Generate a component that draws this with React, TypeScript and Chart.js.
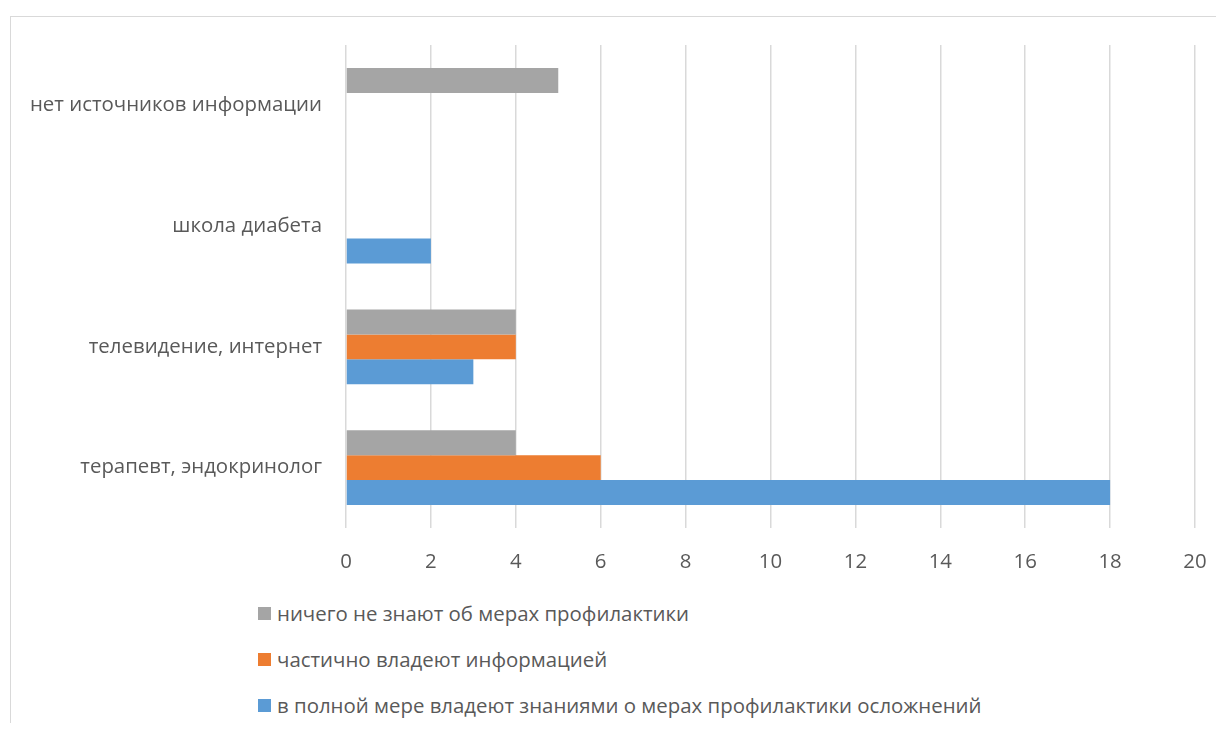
import React, { useEffect, useRef } from "react";
import { Chart, registerables } from "chart.js";

Chart.register(...registerables);

const categories = [
  "нет источников информации",
  "школа диабета",
  "телевидение, интернет",
  "терапевт, эндокринолог",
];
const seriesNames = [
  "ничего не знают об мерах профилактики",
  "частично владеют информацией",
  "в полной мере владеют знаниями о мерах профилактики осложнений",
];
const nothingValues = [5, 0, 4, 4];
const partialValues = [0, 0, 4, 6];
const fullValues = [0, 2, 3, 18];
const seriesColors = ["#a5a5a5", "#ed7d31", "#5b9bd5"];
const xTicksMin = 0;
const xTicksMax = 20;
const xTickStep = 2;

const FONT = "'Open Sans', 'Noto Sans', sans-serif";
const TEXT = "#595959";
const FS = 20.4;

export default function App() {
  const ref = useRef<HTMLCanvasElement | null>(null);

  useEffect(() => {
    if (!ref.current) return;
    const chart = new Chart(ref.current, {
      type: "bar",
      data: {
        labels: categories,
        datasets: [
          { label: seriesNames[0], data: nothingValues, backgroundColor: seriesColors[0] },
          { label: seriesNames[1], data: partialValues, backgroundColor: seriesColors[1] },
          { label: seriesNames[2], data: fullValues, backgroundColor: seriesColors[2] },
        ],
      },
      options: {
        indexAxis: "y",
        animation: false,
        responsive: false,
        maintainAspectRatio: false,
        datasets: { bar: { barPercentage: 1, categoryPercentage: 0.62 } },
        layout: { padding: { top: 37, right: 21, left: 0, bottom: 0 } },
        plugins: { legend: { display: false }, tooltip: { enabled: false } },
        scales: {
          x: {
            min: xTicksMin,
            max: xTicksMax,
            ticks: { stepSize: xTickStep, color: TEXT, font: { family: FONT, size: FS }, padding: 22 },
            grid: { color: "#d9d9d9", lineWidth: 1.5, drawTicks: false },
            border: { display: false },
            afterFit: (s: any) => {
              s.height = 52;
              s.paddingLeft = 0;
              s.paddingRight = 0;
            },
          },
          y: {
            ticks: { color: TEXT, font: { family: FONT, size: FS }, padding: 24 },
            grid: { display: false, drawTicks: false },
            border: { display: false },
            afterFit: (s: any) => {
              s.width = 338;
              s.paddingTop = 0;
              s.paddingBottom = 0;
            },
          },
        },
      },
    });
    return () => chart.destroy();
  }, []);

  const legendRows = [0, 1, 2];
  return (
    <div style={{ position: "relative", width: 1208, height: 715, fontFamily: FONT, overflow: "hidden" }}>
      <div
        style={{
          position: "absolute",
          left: 2,
          top: 8,
          width: 1300,
          height: 800,
          border: "1.5px solid #d9d9d9",
          boxSizing: "border-box",
        }}
      />
      <canvas ref={ref} width={1208} height={572} style={{ position: "absolute", left: 0, top: 0 }} />
      {legendRows.map((i) => (
        <div
          key={i}
          style={{
            position: "absolute",
            left: 250,
            top: 593 + i * 46,
            height: 24,
            display: "flex",
            alignItems: "center",
            color: TEXT,
            fontSize: FS,
            whiteSpace: "nowrap",
          }}
        >
          <span style={{ display: "inline-block", width: 13, height: 13, background: seriesColors[i], marginRight: 6 }} />
          <span>{seriesNames[i]}</span>
        </div>
      ))}
    </div>
  );
}
